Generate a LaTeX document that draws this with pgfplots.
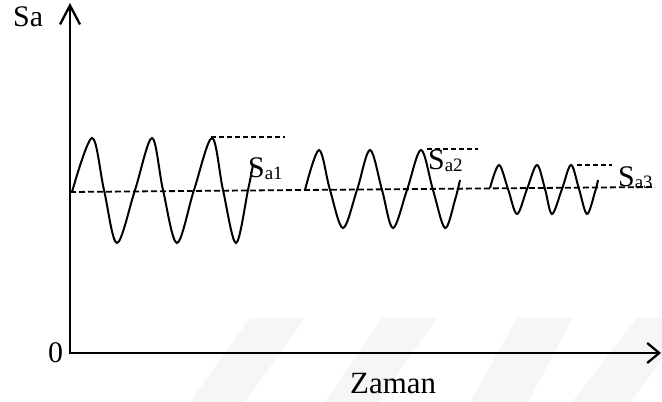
\documentclass[border=0pt]{standalone}
\usepackage{fontspec}
\setmainfont{Liberation Serif}
\usepackage{pgfplots}
\pgfplotsset{compat=1.18}
\usetikzlibrary{arrows.meta}
\newcommand{\Slab}[1]{\fontsize{30}{36}\selectfont S\raisebox{-1.5bp}{\fontsize{19}{20}\selectfont a#1}}
\begin{document}
\begin{tikzpicture}
\useasboundingbox (0,0) rectangle (662bp,402bp);
\begin{axis}[at={(0,0)}, anchor=south west, scale only axis,
  width=662bp, height=402bp, xmin=0, xmax=662, ymin=0, ymax=402,
  hide axis, clip=false]
% faint watermark stripes
\addplot[draw=none, fill=black, fill opacity=0.035] coordinates {(190,0) (245,0) (305,84) (250,84)} --cycle;
\addplot[draw=none, fill=black, fill opacity=0.035] coordinates {(325,0) (378,0) (437,84) (382,84)} --cycle;
\addplot[draw=none, fill=black, fill opacity=0.035] coordinates {(470,0) (528,0) (573,84) (517,84)} --cycle;
\addplot[draw=none, fill=black, fill opacity=0.035] coordinates {(572,0) (630,0) (662,42) (662,84) (637,84)} --cycle;
% axes
\addplot[line width=2.3bp, -{Straight Barb[length=19bp,width=20bp]}] coordinates {(70,48) (70,399)};
\addplot[line width=2.3bp, -{Straight Barb[length=12bp,width=20bp]}] coordinates {(69,49) (661,49)};
% mean line
\addplot[line width=1.8bp, dash pattern=on 6bp off 3bp] coordinates {(70,210) (655,215)};
% peak lines
\addplot[line width=1.6bp, dash pattern=on 5bp off 3bp] coordinates {(211,265) (285,265)};
\addplot[line width=1.6bp, dash pattern=on 5bp off 3bp] coordinates {(427,253) (478,253)};
\addplot[line width=1.6bp, dash pattern=on 5bp off 3bp] coordinates {(577,237) (612,237)};
% wave 1
\addplot[line width=2bp, smooth, tension=0.55] coordinates {
 (72,210) (92,264) (104,212) (117,159) (135,212) (152,264) (163,212)
 (177,159) (194,212) (212,264) (223,212) (236,159) (248,212) (253,237)};
% wave 2
\addplot[line width=2bp, smooth, tension=0.55] coordinates {
 (305,212) (319,252) (330,212) (343,174) (357,212) (370,252) (382,212)
 (393,174) (407,212) (421,252) (433,212) (445,174) (455,202) (460,222)};
% wave 3
\addplot[line width=2bp, smooth, tension=0.55] coordinates {
 (490,214) (499,237) (508,213) (517,188) (527,213) (537,237) (545,213)
 (552,188) (562,213) (571,237) (579,213) (587,188) (595,210) (598,222)};
% labels
\node[anchor=base west, inner sep=0] at (axis cs:13,375) {\fontsize{30}{36}\selectfont Sa};
\node[anchor=base west, inner sep=0] at (axis cs:48,39.5) {\fontsize{30}{36}\selectfont 0};
\node[anchor=base west, inner sep=0] at (axis cs:350,9) {\fontsize{31}{36}\selectfont Zaman};
\node[anchor=base west, inner sep=0] at (axis cs:248,224) {\Slab{1}};
\node[anchor=base west, inner sep=0] at (axis cs:428,232) {\Slab{2}};
\node[anchor=base west, inner sep=0] at (axis cs:618,215) {\Slab{3}};
\end{axis}
\end{tikzpicture}
\end{document}
